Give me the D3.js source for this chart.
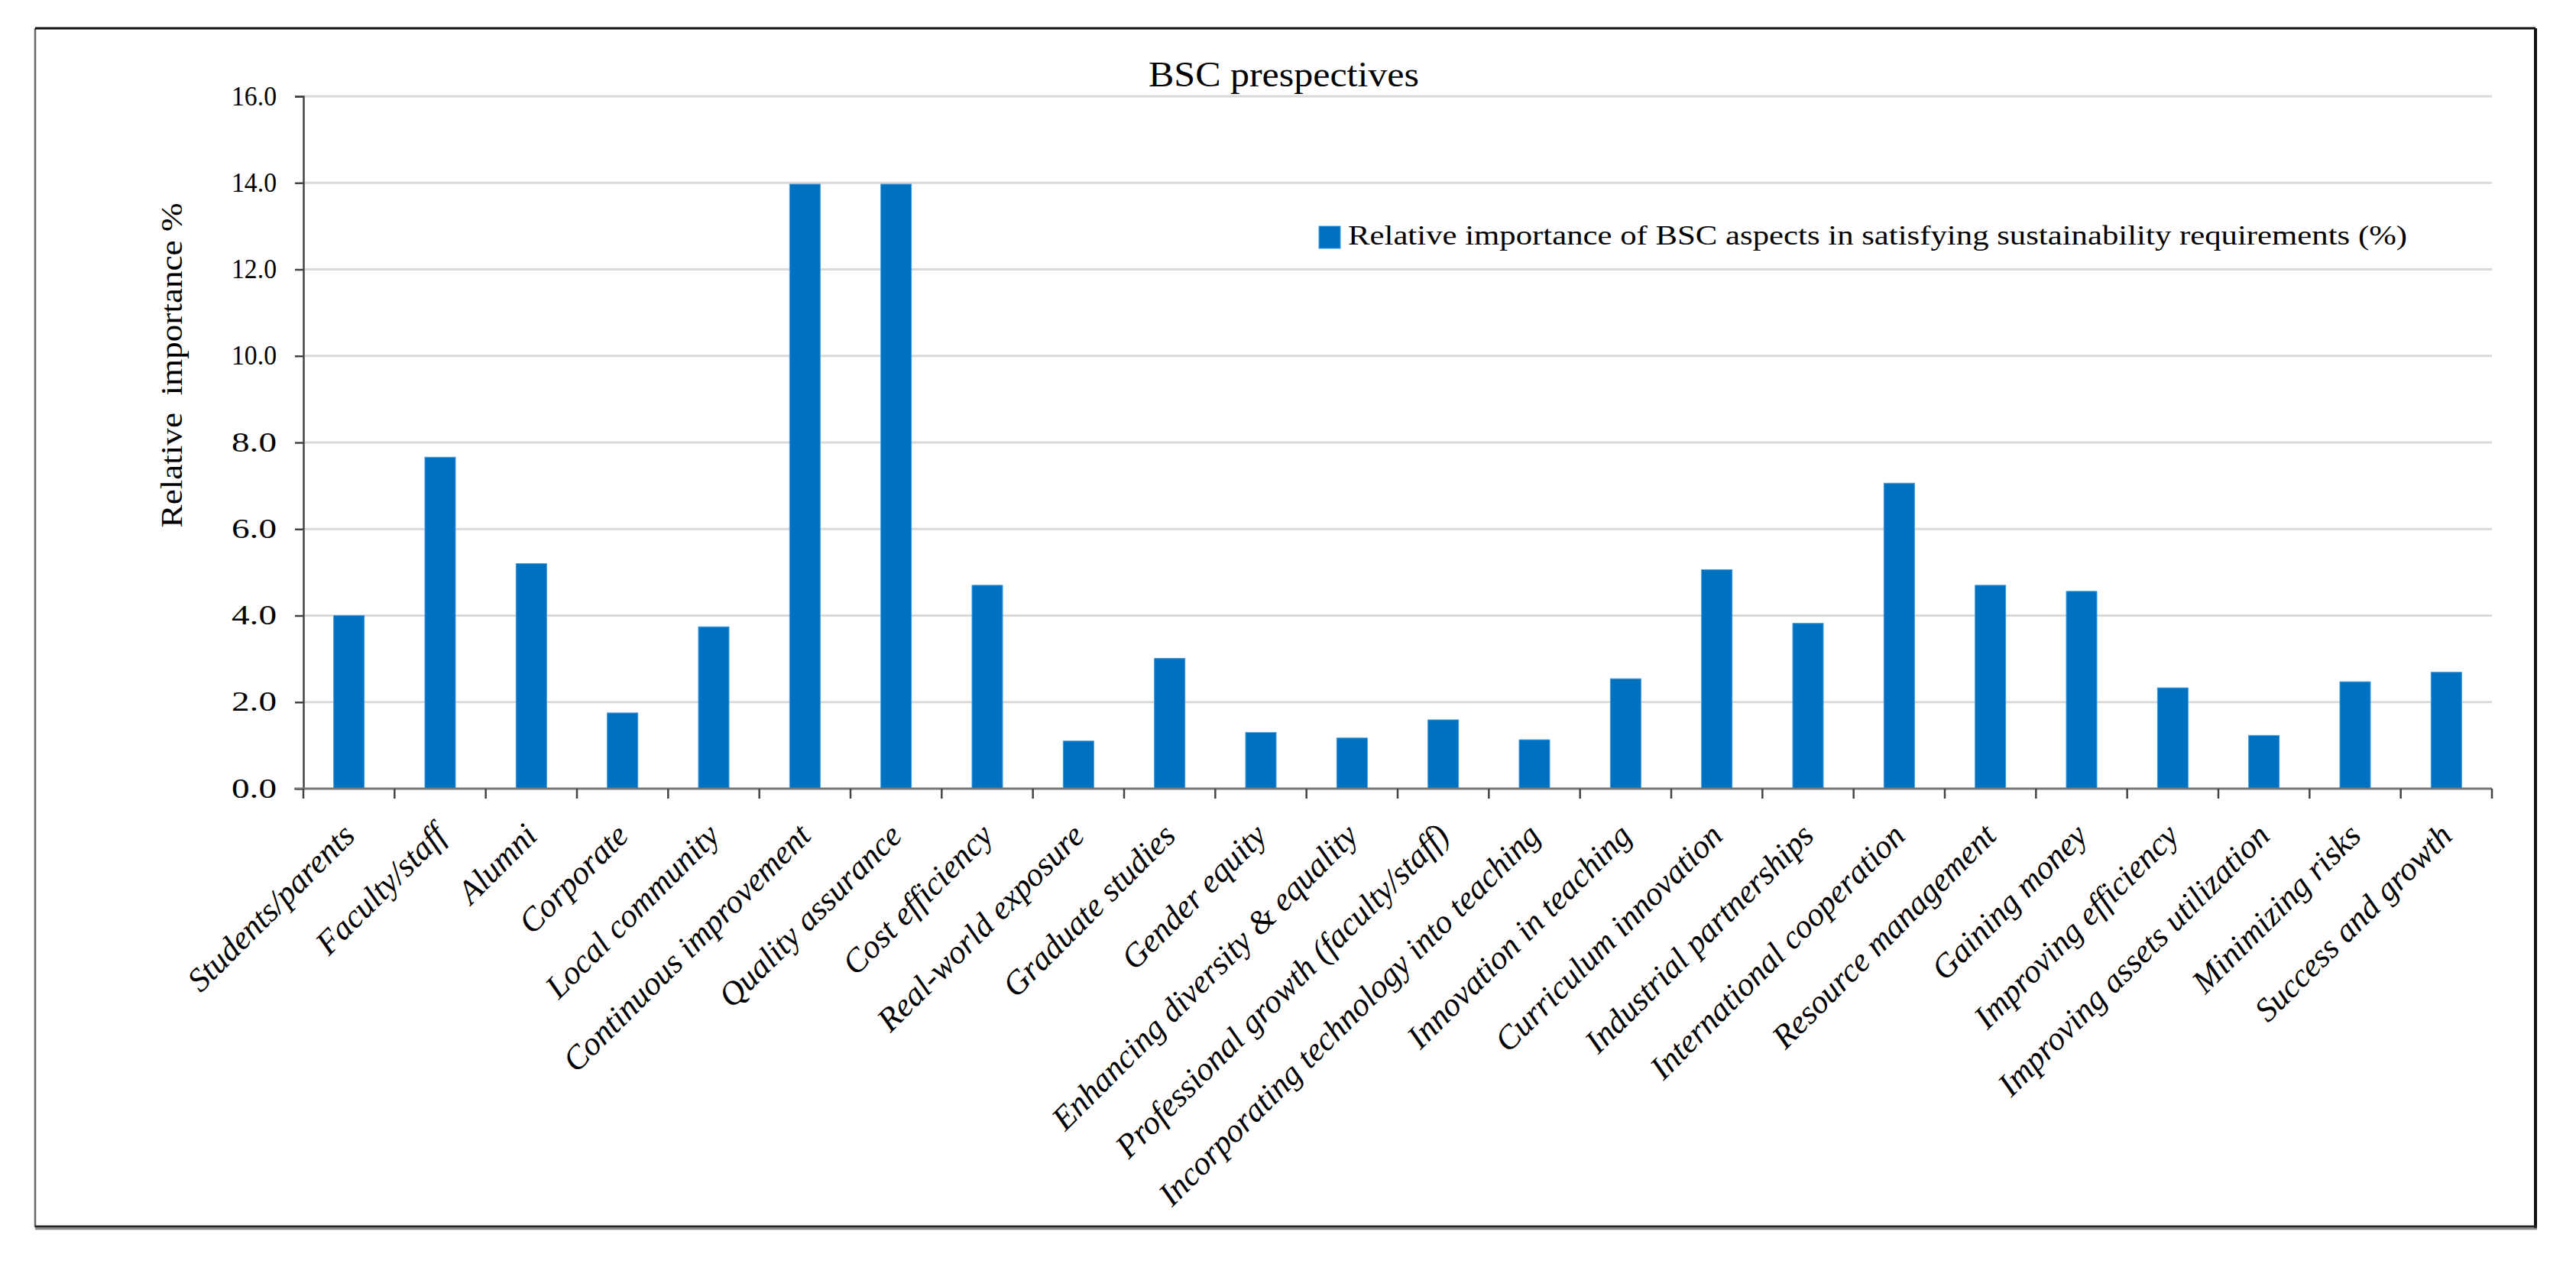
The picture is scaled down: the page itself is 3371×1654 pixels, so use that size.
<!DOCTYPE html>
<html>
<head>
<meta charset="utf-8">
<script src="https://cdn.jsdelivr.net/npm/d3@7"></script>
<style>
  body { margin: 0; background: #fff; }
  text { font-family: "Liberation Serif", "DejaVu Serif", serif; fill: #000; }
</style>
</head>
<body>
<svg id="chart" width="3371" height="1654"></svg>
<script>
const categories = [
  "Students/parents", "Faculty/staff", "Alumni", "Corporate", "Local community",
  "Continuous improvement", "Quality assurance", "Cost efficiency", "Real-world exposure",
  "Graduate studies", "Gender equity", "Enhancing diversity & equality",
  "Professional growth (faculty/staff)", "Incorporating technology into teaching",
  "Innovation in teaching", "Curriculum innovation", "Industrial partnerships",
  "International cooperation", "Resource management", "Gaining money",
  "Improving efficiency", "Improving assets utilization", "Minimizing risks", "Success and growth"
];
const values = [
  4.00, 7.66, 5.20, 1.75, 3.74,
  13.97, 13.97, 4.70, 1.10,
  3.01, 1.30, 1.17,
  1.59, 1.13,
  2.54, 5.06, 3.82,
  7.06, 4.70, 4.56,
  2.33, 1.23, 2.47, 2.69
];
const yTicks = [0, 2, 4, 6, 8, 10, 12, 14, 16];
const titleText = "BSC prespectives";
const yTitle = "Relative  importance %";
const seriesName = "Relative importance of BSC aspects in satisfying sustainability requirements (%)";

const svg = d3.select("#chart");
const L = 397, R = 3261, B = 1032, T = 126;

// outer frame
svg.append("line").attr("x1", 46).attr("x2", 46).attr("y1", 37).attr("y2", 1606)
  .attr("stroke", "#666").attr("stroke-width", 2.5);
svg.append("line").attr("x1", 46).attr("x2", 3318).attr("y1", 37).attr("y2", 37)
  .attr("stroke", "#111").attr("stroke-width", 3);
svg.append("line").attr("x1", 3318).attr("x2", 3318).attr("y1", 37).attr("y2", 1608)
  .attr("stroke", "#111").attr("stroke-width", 4);
svg.append("line").attr("x1", 46).attr("x2", 3320).attr("y1", 1605).attr("y2", 1605)
  .attr("stroke", "#222").attr("stroke-width", 3);
svg.append("line").attr("x1", 46).attr("x2", 3320).attr("y1", 1608).attr("y2", 1608)
  .attr("stroke", "#888").attr("stroke-width", 2.5);

const p = 0.665;
const x = d3.scaleBand().domain(categories).range([L, R]).paddingInner(p).paddingOuter(p / 2);
const y = d3.scaleLinear().domain([0, 16]).range([B, T]);

// gridlines
svg.append("g").selectAll("line").data(yTicks.filter(d => d > 0)).join("line")
  .attr("x1", L).attr("x2", R).attr("y1", d => y(d)).attr("y2", d => y(d))
  .attr("stroke", "#d9d9d9").attr("stroke-width", 3);

// bars
svg.append("g").selectAll("rect").data(categories).join("rect")
  .attr("x", (d) => x(d))
  .attr("y", (d, i) => y(values[i]))
  .attr("width", x.bandwidth())
  .attr("height", (d, i) => y(0) - y(values[i]))
  .attr("fill", "#0070C0")
  .attr("stroke", "#3d9be0").attr("stroke-width", 1);

// y axis
const yAxis = svg.append("g").attr("transform", `translate(${L},0)`)
  .call(d3.axisLeft(y).tickValues(yTicks).tickFormat(d3.format(".1f")).tickSize(11).tickPadding(24));
yAxis.select(".domain").attr("stroke", "#444").attr("stroke-width", 2.5);
yAxis.selectAll(".tick line").attr("stroke", "#444").attr("stroke-width", 2.5);
yAxis.selectAll(".tick text").attr("font-size", 35).attr("font-family", "Liberation Serif")
  .attr("fill", "#222").attr("textLength", 59).attr("lengthAdjust", "spacingAndGlyphs");

// x axis line and boundary ticks
const xg = svg.append("g");
xg.append("line").attr("x1", L - 12).attr("x2", R).attr("y1", B).attr("y2", B)
  .attr("stroke", "#777").attr("stroke-width", 3);
const bounds = d3.range(categories.length + 1).map(i => L + i * x.step());
xg.selectAll("line.tk").data(bounds).join("line").attr("class", "tk")
  .attr("x1", d => d).attr("x2", d => d).attr("y1", B).attr("y2", B + 13)
  .attr("stroke", "#444").attr("stroke-width", 2.5);

// category labels
svg.append("g").selectAll("text").data(categories).join("text")
  .attr("transform", d => `translate(${x(d) + x.bandwidth() / 2 + 10},${B + 64}) rotate(-45)`)
  .attr("text-anchor", "end")
  .attr("font-size", 43.5)
  .attr("font-style", "italic")
  .text(d => d);

// title
svg.append("text").attr("x", 1680).attr("y", 113).attr("text-anchor", "middle")
  .attr("font-size", 46).attr("textLength", 354).attr("lengthAdjust", "spacingAndGlyphs")
  .text(titleText);

// y title
svg.append("text").attr("transform", `translate(238,478) rotate(-90)`).attr("text-anchor", "middle")
  .attr("font-size", 41).style("white-space", "pre")
  .attr("textLength", 425).attr("lengthAdjust", "spacingAndGlyphs")
  .text(yTitle);

// legend
svg.append("rect").attr("x", 1726).attr("y", 296).attr("width", 28).attr("height", 29)
  .attr("fill", "#0070C0").attr("stroke", "#3d9be0").attr("stroke-width", 1);
svg.append("text").attr("x", 1764).attr("y", 320).attr("font-size", 36)
  .attr("textLength", 1386).attr("lengthAdjust", "spacingAndGlyphs")
  .text(seriesName);
</script>
</body>
</html>
